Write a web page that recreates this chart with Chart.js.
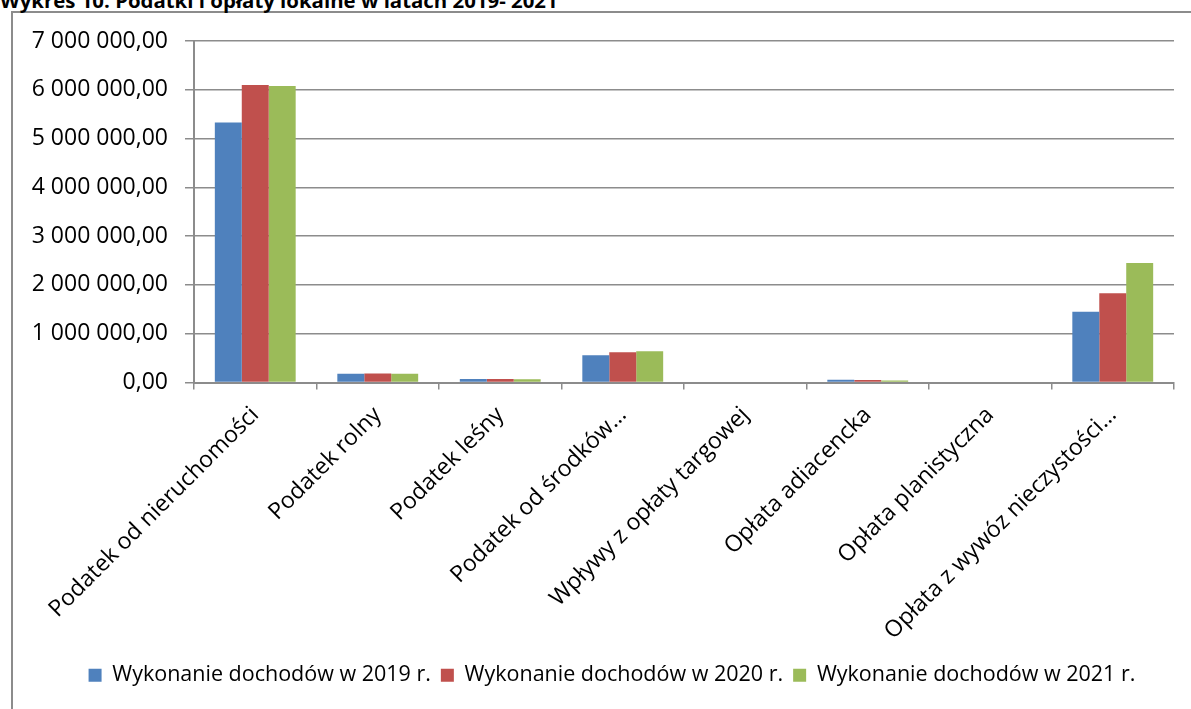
<!DOCTYPE html>
<html>
<head>
<meta charset="utf-8">
<script src="https://cdn.jsdelivr.net/npm/chart.js@4/dist/chart.umd.min.js"></script>
<style>
  html, body { margin: 0; padding: 0; background: #fff; overflow: hidden; }
  #frame { position: absolute; left: 11px; top: 11px; width: 1200px; height: 720px; border-left: 2px solid #8c8c8c; border-top: 2px solid #8c8c8c; box-sizing: border-box; }
  #title { position: absolute; left: 0; top: -10px; font: bold 20.4px "Open Sans", sans-serif; color: #000; white-space: nowrap; line-height: 20px; }
  #wrap { position: absolute; left: 0; top: 0; width: 1191px; height: 709px; }
</style>
</head>
<body>
<div id="frame"></div>
<div id="title">Wykres 10. Podatki i opłaty lokalne w latach 2019- 2021</div>
<div id="wrap"><canvas id="chart" width="1191" height="709"></canvas></div>
<script>
// kategorie i wartości
const categories = [
  'Podatek od nieruchomości',
  'Podatek rolny',
  'Podatek leśny',
  'Podatek od środków…',
  'Wpływy z opłaty targowej',
  'Opłata adiacencka',
  'Opłata planistyczna',
  'Opłata z wywóz nieczystości…'
];
const seriesNames = ['Wykonanie dochodów w 2019 r.', 'Wykonanie dochodów w 2020 r.', 'Wykonanie dochodów w 2021 r.'];
const values2019 = [5330000, 180000, 70000, 560000, 0, 55000, 0, 1450000];
const values2020 = [6100000, 182000, 70000, 620000, 0, 50000, 0, 1830000];
const values2021 = [6080000, 180000, 68000, 640000, 0, 40000, 0, 2450000];
const yTicks = [0, 1000000, 2000000, 3000000, 4000000, 5000000, 6000000, 7000000];

const colors = ['#4F81BD', '#C0504D', '#9BBB59'];
const font = '"Open Sans", sans-serif';

function formatPL(v) {
  const s = Math.round(v).toString().replace(/\B(?=(\d{3})+(?!\d))/g, ' ');
  return s + ',00';
}

// przesunięcie legendy w prawo, jak w oryginale
const legendShift = {
  id: 'legendShift',
  afterLayout(chart) {
    if (chart.legend) chart.legend.left += 50;
  }
};

const ctx = document.getElementById('chart').getContext('2d');
new Chart(ctx, {
  type: 'bar',
  data: {
    labels: categories,
    datasets: [values2019, values2020, values2021].map((d, i) => ({
      label: seriesNames[i],
      data: d,
      backgroundColor: colors[i],
      borderWidth: 0,
      categoryPercentage: 0.66,
      barPercentage: 1.0
    }))
  },
  options: {
    responsive: false,
    animation: false,
    layout: { padding: { top: 41, right: 17, bottom: 13, left: 0 } },
    plugins: {
      legend: {
        position: 'bottom',
        labels: {
          font: { family: font, size: 21.5 },
          color: '#000',
          boxWidth: 13,
          boxHeight: 13,
          padding: 10
        }
      },
      tooltip: { enabled: false }
    },
    scales: {
      x: {
        afterFit: function(scale) { scale.height = 272; },
        grid: {
          offset: true,
          drawOnChartArea: false,
          color: '#8c8c8c',
          lineWidth: 1.5,
          tickLength: 7
        },
        border: { color: '#8c8c8c', width: 2 },
        ticks: {
          minRotation: 45,
          maxRotation: 45,
          autoSkip: false,
          color: '#000',
          font: { family: font, size: 23 },
          padding: 12
        }
      },
      y: {
        min: 0,
        max: 7000000,
        afterFit: function(scale) { scale.width = 194; },
        afterBuildTicks: function(scale) { scale.ticks = yTicks.map(v => ({ value: v })); },
        grid: {
          color: '#8c8c8c',
          lineWidth: 1.5,
          tickLength: 9
        },
        border: { color: '#8c8c8c', width: 2 },
        ticks: {
          color: '#000',
          font: { family: font, size: 23 },
          padding: 17,
          callback: function(v) { return formatPL(v); }
        }
      }
    }
  },
  plugins: [legendShift]
});
</script>
</body>
</html>
